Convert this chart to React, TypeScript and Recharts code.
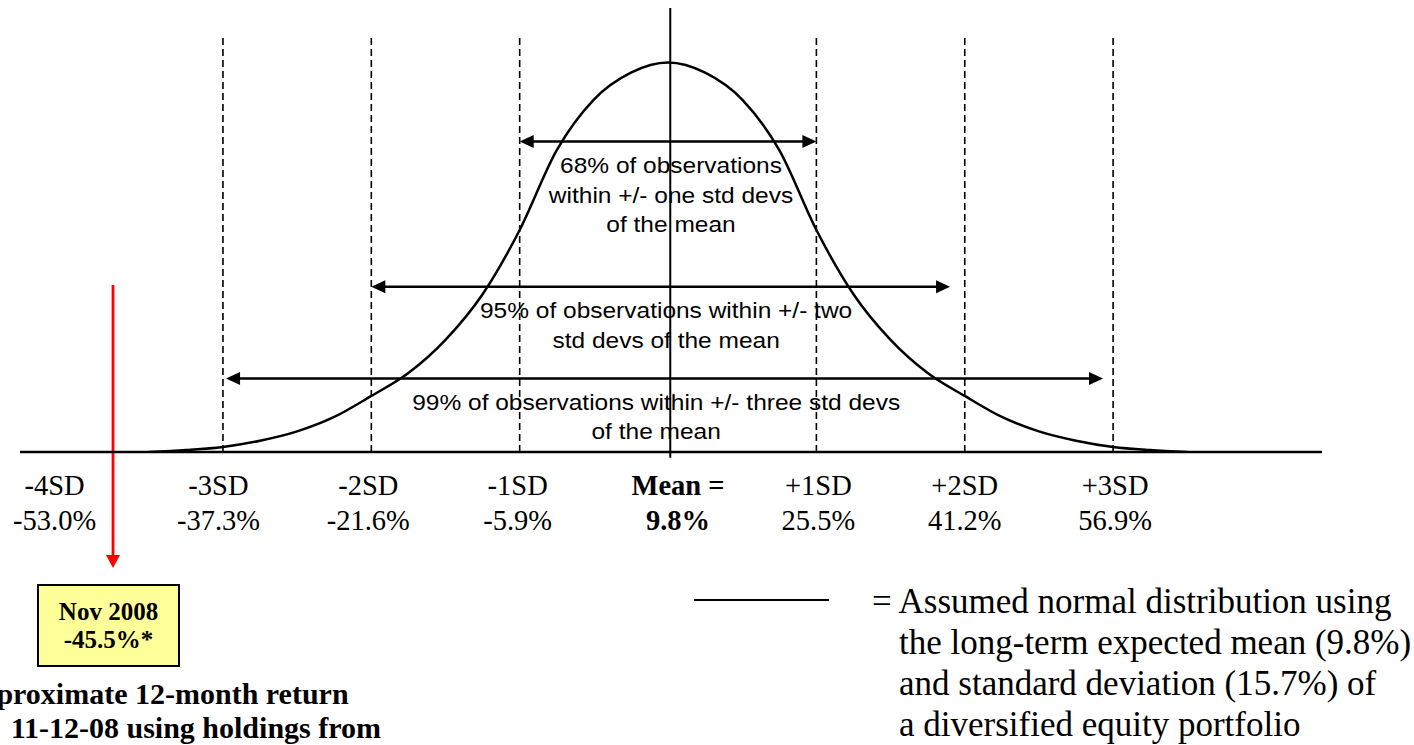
import React from 'react';
import { ComposedChart, Line, XAxis, YAxis, ReferenceLine } from 'recharts';

// axis: positions in standard deviations from the mean
const sdTicks = [-4, -3, -2, -1, 0, 1, 2, 3];
const sdNames = ['-4SD', '-3SD', '-2SD', '-1SD', 'Mean =', '+1SD', '+2SD', '+3SD'];
const returnLabels = ['-53.0%', '-37.3%', '-21.6%', '-5.9%', '9.8%', '25.5%', '41.2%', '56.9%'];
const dashedSd = [-3, -2, -1, 1, 2, 3];

// bell curve (height, peak = 100)
const curveSd = [
  -3.5, -3.25, -3, -2.75, -2.5, -2.25, -2, -1.75, -1.5, -1.25, -1, -0.75, -0.5, -0.25,
  0, 0.25, 0.5, 0.75, 1, 1.25, 1.5, 1.75, 2, 2.25, 2.5, 2.75, 3, 3.25, 3.5,
];
const curveHeight = [
  0, 0.5, 1.3, 2.9, 5.3, 9.0, 14.4, 20.3, 28.8, 40.5, 57.0, 77.5, 90.5, 97.4,
  100, 97.4, 90.5, 77.5, 57.0, 40.5, 28.8, 20.3, 14.4, 9.0, 5.3, 2.9, 1.3, 0.5, 0,
];

// the three "x% of observations" arrows
const arrowFrom = [-1, -2, -2.979];
const arrowTo = [1, 1.901, 2.932];
const arrowLevel = [79.7, 42.4, 18.9];
const noteCenter = [0.02, -0.013, -0.08];
const arrowNotes = [
  ['68% of observations', 'within +/- one std devs', 'of the mean'],
  ['95% of observations within +/- two', 'std devs of the mean'],
  ['99% of observations within +/- three std devs', 'of the mean'],
];

// Nov 2008 marker
const novSd = -3.741;
const novTop = 42.9;
const novTip = -29.8;

const legendLines = [
  '= Assumed normal distribution using',
  'the long-term expected mean (9.8%)',
  'and standard deviation (15.7%) of',
  'a diversified equity portfolio',
];

const curveData = curveSd.map((sd, i) => ({ sd, h: curveHeight[i] }));

const SERIF = '"Liberation Serif", "Times New Roman", serif';
const SANS = '"Liberation Sans", Arial, sans-serif';

// labels are not all centred on their tick in the original
const labelNudge = [-20, -4.5, -3, -2, 10, 2, 0, 2];

const SdTick = (props: any) => {
  const { x, y, payload, index } = props;
  const i = sdTicks.indexOf(payload.value);
  const bold = payload.value === 0;
  const cx = x + labelNudge[i >= 0 ? i : index];
  return (
    <g>
      <text x={cx} y={y + 43} textAnchor="middle" fontFamily={SERIF} fontSize={28.5} fontWeight={bold ? 'bold' : 'normal'} fill="#000">
        {sdNames[i]}
      </text>
      <text x={cx} y={y + 78} textAnchor="middle" fontFamily={SERIF} fontSize={28.5} fontWeight={bold ? 'bold' : 'normal'} fill="#000">
        {returnLabels[i]}
      </text>
    </g>
  );
};

const makeArrow = (i: number) => (p: any) => {
  const { x1, y1, x2 } = p;
  const head = 14;
  const half = 6.5;
  const tx = x1 + ((x2 - x1) * (noteCenter[i] - arrowFrom[i])) / (arrowTo[i] - arrowFrom[i]);
  return (
    <g>
      <line x1={x1 + head - 2} y1={y1} x2={x2 - head + 2} y2={y1} stroke="#000" strokeWidth={2.5} />
      <polygon points={`${x1},${y1} ${x1 + head},${y1 - half} ${x1 + head},${y1 + half}`} fill="#000" />
      <polygon points={`${x2},${y1} ${x2 - head},${y1 - half} ${x2 - head},${y1 + half}`} fill="#000" />
      {arrowNotes[i].map((line, k) => (
        <text
          key={k}
          transform={`translate(${tx},${y1 + 31.5 + k * 29.5}) scale(1,0.88)`}
          textAnchor="middle"
          fontFamily={SANS}
          fontSize={24.5}
          fill="#000"
        >
          {line}
        </text>
      ))}
    </g>
  );
};

const RedArrow = (p: any) => {
  const { x1, y1, y2 } = p;
  const top = Math.min(y1, y2);
  const tip = Math.max(y1, y2);
  return (
    <g>
      <line x1={x1} y1={top} x2={x1} y2={tip - 12} stroke="#ff0000" strokeWidth={2.8} />
      <polygon points={`${x1},${tip} ${x1 - 7},${tip - 13} ${x1 + 7},${tip - 13}`} fill="#ff0000" />
    </g>
  );
};

const App: React.FC = () => {
  return (
    <div style={{ position: 'fixed', left: 0, top: 0, width: 1414, height: 745, overflow: 'hidden', background: '#fff' }}>
      <ComposedChart width={1414} height={745} data={curveData} margin={{ top: 8, right: 92, bottom: 263, left: 20 }}>
        <XAxis
          type="number"
          dataKey="sd"
          domain={[-4.368, 4.408]}
          ticks={sdTicks}
          interval={0}
          allowDataOverflow
          tickLine={false}
          tickSize={0}
          tickMargin={0}
          height={30}
          axisLine={{ stroke: '#000', strokeWidth: 2.5 }}
          tick={(p: any) => <SdTick {...p} />}
        />
        <YAxis type="number" domain={[0, 114]} allowDataOverflow hide />
        {dashedSd.map((sd) => (
          <ReferenceLine
            key={sd}
            segment={[{ x: sd, y: 0 }, { x: sd, y: 106.3 }]}
            stroke="#000"
            strokeWidth={1.6}
            strokeDasharray="7 4"
            ifOverflow="visible"
          />
        ))}
        <ReferenceLine segment={[{ x: 0.015, y: -1.5 }, { x: 0.015, y: 114 }]} stroke="#000" strokeWidth={2} ifOverflow="visible" />
        {arrowFrom.map((from, i) => (
          <ReferenceLine
            key={`arrow-${i}`}
            segment={[{ x: from, y: arrowLevel[i] }, { x: arrowTo[i], y: arrowLevel[i] }]}
            ifOverflow="visible"
            shape={makeArrow(i)}
          />
        ))}
        <ReferenceLine
          segment={[{ x: novSd, y: novTop }, { x: novSd, y: novTip }]}
          ifOverflow="visible"
          shape={RedArrow}
        />
        <Line type="monotone" dataKey="h" stroke="#000" strokeWidth={2.5} dot={false} activeDot={false} isAnimationActive={false} />
      </ComposedChart>

      <svg width={1414} height={745} style={{ position: 'absolute', left: 0, top: 0, pointerEvents: 'none' }}>
        <rect x={38} y={585} width={141} height={81} fill="#ffff99" stroke="#000" strokeWidth={2} />
        <text x={108.5} y={619.5} textAnchor="middle" fontFamily={SERIF} fontSize={25} fontWeight="bold" fill="#000">
          Nov 2008
        </text>
        <text x={108.5} y={648} textAnchor="middle" fontFamily={SERIF} fontSize={25} fontWeight="bold" fill="#000">
          -45.5%*
        </text>
        <text x={348.6} y={704} textAnchor="end" fontFamily={SERIF} fontSize={30} fontWeight="bold" fill="#000">
          *Approximate 12-month return
        </text>
        <text x={381} y={738} textAnchor="end" fontFamily={SERIF} fontSize={30} fontWeight="bold" fill="#000">
          11-12-08 using holdings from
        </text>

        <line x1={694} y1={600} x2={829} y2={600} stroke="#000" strokeWidth={2} />
        {legendLines.map((line, k) => (
          <text key={k} x={k === 0 ? 872 : 899} y={613 + k * 41} fontFamily={SERIF} fontSize={35} fill="#000">
            {line}
          </text>
        ))}
      </svg>
    </div>
  );
};

export default App;
